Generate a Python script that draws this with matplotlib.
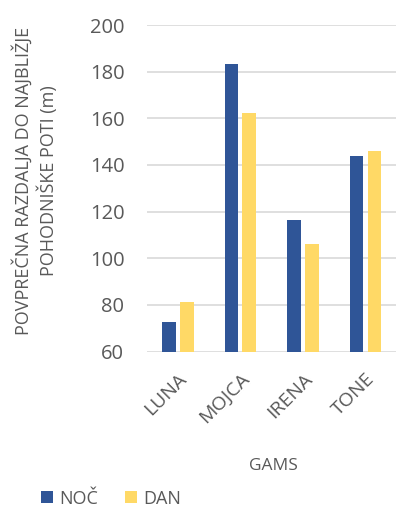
import matplotlib
matplotlib.use("Agg")
import matplotlib.pyplot as plt
import numpy as np

categories = ["LUNA", "MOJCA", "IRENA", "TONE"]
noc = [72.7, 183.3, 116.3, 143.7]
dan = [81.1, 162.3, 106.1, 146.1]
yticks = [60, 80, 100, 120, 140, 160, 180, 200]

plt.rcParams["font.family"] = ["Open Sans", "DejaVu Sans"]
gray = "#595959"
blue = "#2F5597"
yellow = "#FFD966"

fig = plt.figure(figsize=(3.96, 5.11), dpi=100)
ax = fig.add_axes([0.370, 0.312, 0.632, 0.639])

x = np.arange(len(categories))
w = 0.22
off = 0.143
ax.bar(x - off, noc, w, color=blue, label="NOČ", zorder=3)
ax.bar(x + off, dan, w, color=yellow, label="DAN", zorder=3)

ax.set_xlim(-0.5, len(categories) - 0.5)
ax.set_ylim(60, 200)
ax.set_yticks(yticks)
ax.set_yticklabels([str(v) for v in yticks], fontsize=14.5, color=gray)
ax.yaxis.grid(True, color="#D9D9D9", linewidth=1.2, zorder=0)
ax.tick_params(axis="y", length=0, pad=16)
ax.tick_params(axis="x", length=0, pad=13)
ax.set_xticks(x)
ax.set_xticklabels(categories, rotation=45, ha="right", rotation_mode="anchor",
                   fontsize=14, color=gray)
for s in ax.spines.values():
    s.set_visible(False)

fig.text(0.69, 0.088, "GAMS", ha="center", va="center", fontsize=12.5, color=gray)
fig.text(0.088, 0.646, "POVPREČNA RAZDALJA DO NAJBLIŽJE\nPOHODNIŠKE POTI (m)",
         rotation=90, ha="center", va="center", fontsize=13, color=gray,
         linespacing=1.25, multialignment="center")

fig.legend(loc="center left", bbox_to_anchor=(0.103, 0.024), ncol=2, frameon=False,
           fontsize=13, handlelength=0.65, handleheight=0.65, handletextpad=0.35,
           columnspacing=1.5, labelcolor=gray, borderaxespad=0, borderpad=0)

fig.savefig("out.png", dpi=100)
